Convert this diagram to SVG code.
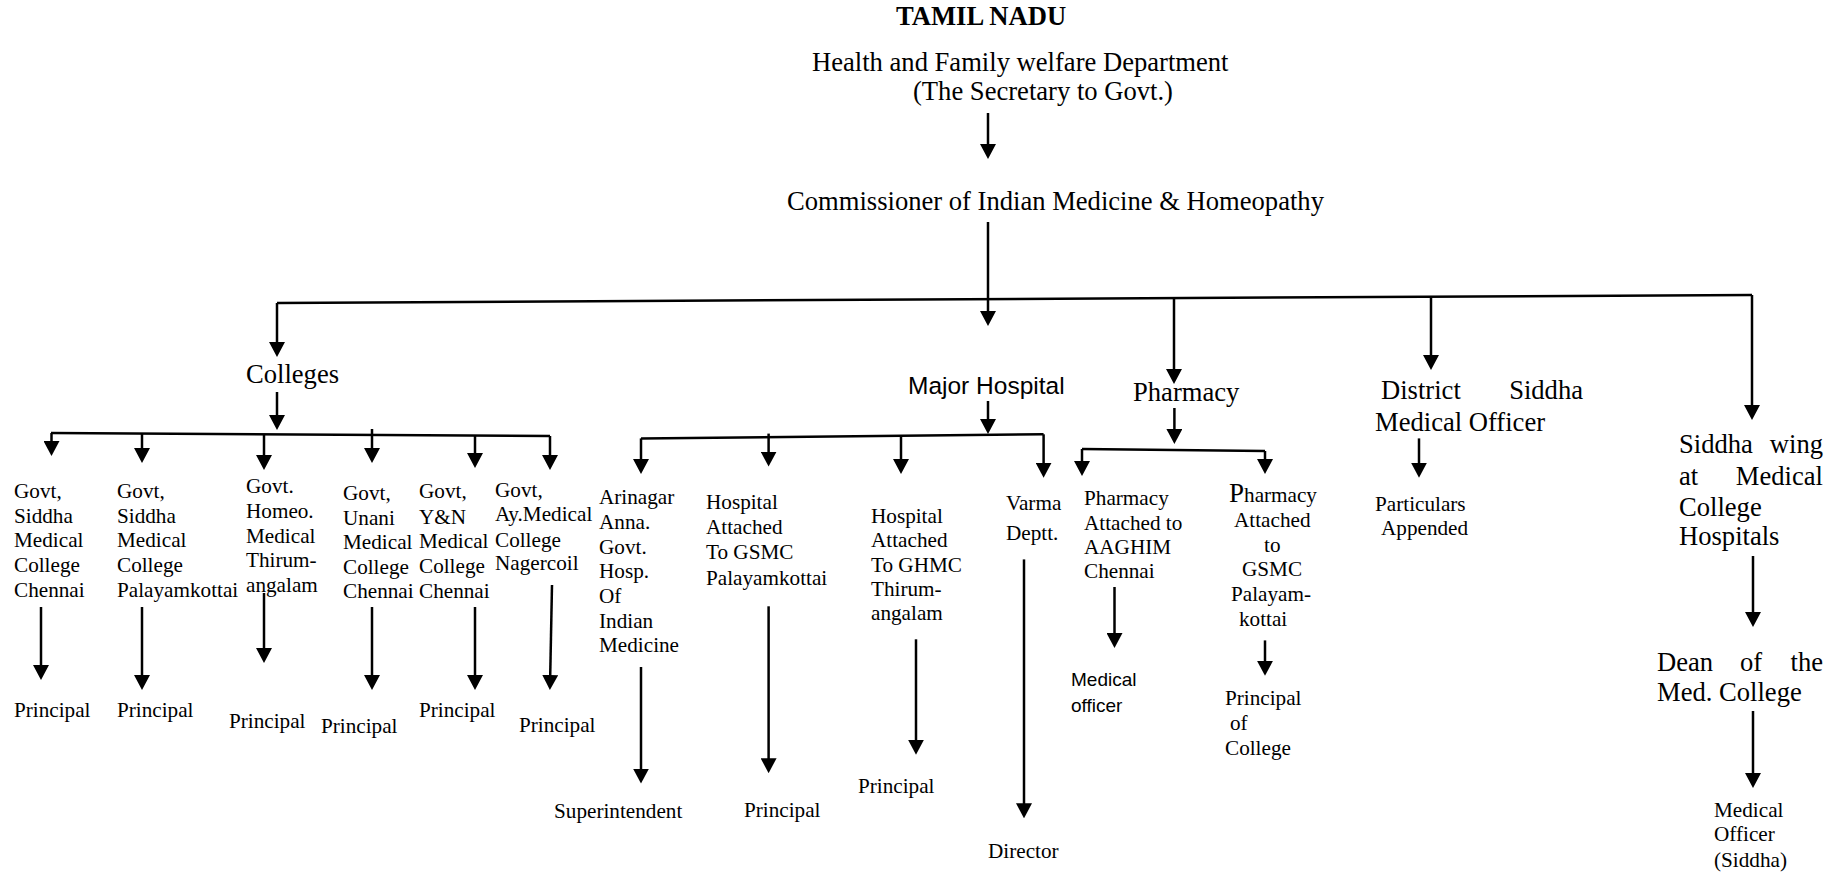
<svg xmlns="http://www.w3.org/2000/svg" width="1840" height="875" viewBox="0 0 1840 875">
<defs>
<style>
.t{font-family:"Liberation Serif","Times New Roman",serif;fill:#000}
.big{font-size:26.6px}
.sm{font-size:21.2px}
.b{font-weight:bold}
.sans{font-family:"Liberation Sans",Arial,sans-serif;fill:#000}
.c line{stroke:#000;stroke-width:2.5;fill:none}
.a{marker-end:url(#ah)}
</style>
<marker id="ah" viewBox="0 0 15 16" refX="11" refY="8" markerWidth="15" markerHeight="16" orient="auto" markerUnits="userSpaceOnUse"><path d="M0,0 L15,8 L0,16 z" fill="#000"/></marker>
</defs>
<rect width="1840" height="875" fill="#fff"/>

<g id="connectors" class="c">
<line class="a" x1="988" y1="113" x2="988" y2="155"/>
<line class="a" x1="988" y1="222" x2="988" y2="322"/>
<line x1="277" y1="303" x2="1752" y2="295"/>
<line class="a" x1="277" y1="303" x2="277" y2="353"/>
<line class="a" x1="1174" y1="298" x2="1174" y2="380"/>
<line class="a" x1="1431" y1="296.6" x2="1431" y2="366"/>
<line class="a" x1="1752" y1="295" x2="1752" y2="416"/>
<line class="a" x1="277" y1="392" x2="277" y2="426"/>
<line x1="51" y1="433" x2="550" y2="436"/>
<line class="a" x1="51.5" y1="433" x2="51.5" y2="452"/>
<line class="a" x1="142" y1="433.5" x2="142" y2="459"/>
<line class="a" x1="264" y1="434.3" x2="264" y2="466"/>
<line class="a" x1="372" y1="429" x2="372" y2="459"/>
<line class="a" x1="475" y1="435.5" x2="475" y2="464"/>
<line class="a" x1="550" y1="436" x2="550" y2="466"/>
<line class="a" x1="41" y1="607" x2="41" y2="676"/>
<line class="a" x1="142" y1="607" x2="142" y2="686"/>
<line class="a" x1="264" y1="593" x2="264" y2="659"/>
<line class="a" x1="372" y1="607" x2="372" y2="686"/>
<line class="a" x1="475" y1="607" x2="475" y2="686"/>
<line class="a" x1="552" y1="585" x2="550" y2="686"/>
<line class="a" x1="988" y1="401" x2="988" y2="430"/>
<line x1="641" y1="438.4" x2="1043.6" y2="434.3"/>
<line class="a" x1="641" y1="438.4" x2="641" y2="470"/>
<line class="a" x1="768.6" y1="433.6" x2="768.6" y2="462.6"/>
<line class="a" x1="901" y1="436" x2="901" y2="470"/>
<line class="a" x1="1043.6" y1="434.3" x2="1043.6" y2="473.7"/>
<line class="a" x1="641" y1="667" x2="641" y2="779.6"/>
<line class="a" x1="768.6" y1="606.3" x2="768.6" y2="769.2"/>
<line class="a" x1="916" y1="639.3" x2="916" y2="750.7"/>
<line class="a" x1="1024" y1="559.4" x2="1024" y2="814.3"/>
<line class="a" x1="1174.4" y1="408" x2="1174.4" y2="440"/>
<line x1="1082" y1="449" x2="1265" y2="451"/>
<line class="a" x1="1082" y1="449" x2="1082" y2="472"/>
<line class="a" x1="1265" y1="451" x2="1265" y2="470"/>
<line class="a" x1="1114.5" y1="587" x2="1114.5" y2="644"/>
<line class="a" x1="1265" y1="640.4" x2="1265" y2="671.8"/>
<line class="a" x1="1419" y1="438.4" x2="1419" y2="473.7"/>
<line class="a" x1="1753" y1="556" x2="1753" y2="623"/>
<line class="a" x1="1753" y1="711" x2="1753" y2="784"/>
</g>

<g id="title"><text class="t big b" x="896" y="25">TAMIL NADU</text></g>
<g id="health">
<text class="t big" x="812" y="71">Health and Family welfare Department</text>
<text class="t big" x="913" y="100">(The Secretary to Govt.)</text>
</g>
<g id="commissioner"><text class="t big" x="787" y="210">Commissioner of Indian Medicine &amp; Homeopathy</text></g>

<g id="colleges"><text class="t big" x="246" y="383">Colleges</text></g>
<g id="college1"><text class="t sm"><tspan x="14" y="498">Govt,</tspan><tspan x="14" y="523">Siddha</tspan><tspan x="14" y="547">Medical</tspan><tspan x="14" y="572">College</tspan><tspan x="14" y="597">Chennai</tspan></text></g>
<g id="principal1"><text class="t sm" x="14" y="717">Principal</text></g>
<g id="college2"><text class="t sm"><tspan x="117" y="498">Govt,</tspan><tspan x="117" y="523">Siddha</tspan><tspan x="117" y="547">Medical</tspan><tspan x="117" y="572">College</tspan><tspan x="117" y="597">Palayamkottai</tspan></text></g>
<g id="principal2"><text class="t sm" x="117" y="717">Principal</text></g>
<g id="college3"><text class="t sm"><tspan x="246" y="493">Govt.</tspan><tspan x="246" y="518">Homeo.</tspan><tspan x="246" y="543">Medical</tspan><tspan x="246" y="567">Thirum-</tspan><tspan x="246" y="592">angalam</tspan></text></g>
<g id="principal3"><text class="t sm" x="229" y="728">Principal</text></g>
<g id="college4"><text class="t sm"><tspan x="343" y="500">Govt,</tspan><tspan x="343" y="525">Unani</tspan><tspan x="343" y="549">Medical</tspan><tspan x="343" y="574">College</tspan><tspan x="343" y="598">Chennai</tspan></text></g>
<g id="principal4"><text class="t sm" x="321" y="733">Principal</text></g>
<g id="college5"><text class="t sm"><tspan x="419" y="498">Govt,</tspan><tspan x="419" y="524">Y&amp;N</tspan><tspan x="419" y="548">Medical</tspan><tspan x="419" y="573">College</tspan><tspan x="419" y="598">Chennai</tspan></text></g>
<g id="principal5"><text class="t sm" x="419" y="717">Principal</text></g>
<g id="college6"><text class="t sm"><tspan x="495" y="497">Govt,</tspan><tspan x="495" y="521">Ay.Medical</tspan><tspan x="495" y="547">College</tspan><tspan x="495" y="570">Nagercoil</tspan></text></g>
<g id="principal6"><text class="t sm" x="519" y="732">Principal</text></g>

<g id="major-hospital"><text class="sans" font-size="24.5" x="908" y="394">Major Hospital</text></g>
<g id="arinagar"><text class="t sm"><tspan x="599" y="504">Arinagar</tspan><tspan x="599" y="529">Anna.</tspan><tspan x="599" y="554">Govt.</tspan><tspan x="599" y="578">Hosp.</tspan><tspan x="599" y="603">Of</tspan><tspan x="599" y="628">Indian</tspan><tspan x="599" y="652">Medicine</tspan></text></g>
<g id="superintendent"><text class="t sm" x="554" y="818">Superintendent</text></g>
<g id="hosp-gsmc"><text class="t sm"><tspan x="706" y="509">Hospital</tspan><tspan x="706" y="534">Attached</tspan><tspan x="706" y="559">To GSMC</tspan><tspan x="706" y="585">Palayamkottai</tspan></text></g>
<g id="principal-gsmc"><text class="t sm" x="744" y="817">Principal</text></g>
<g id="hosp-ghmc"><text class="t sm"><tspan x="871" y="523">Hospital</tspan><tspan x="871" y="547">Attached</tspan><tspan x="871" y="572">To GHMC</tspan><tspan x="871" y="596">Thirum-</tspan><tspan x="871" y="620">angalam</tspan></text></g>
<g id="principal-ghmc"><text class="t sm" x="858" y="793">Principal</text></g>
<g id="varma"><text class="t sm"><tspan x="1006" y="510">Varma</tspan><tspan x="1006" y="540">Deptt.</tspan></text></g>
<g id="director"><text class="t sm" x="988" y="858">Director</text></g>

<g id="pharmacy"><text class="t big" x="1133" y="401">Pharmacy</text></g>
<g id="pharm-aaghim"><text class="t sm"><tspan x="1084" y="505">Pharmacy</tspan><tspan x="1084" y="530">Attached to</tspan><tspan x="1084" y="554">AAGHIM</tspan><tspan x="1084" y="578">Chennai</tspan></text></g>
<g id="medical-officer"><text class="sans" font-size="19"><tspan x="1071" y="686">Medical</tspan><tspan x="1071" y="712">officer</tspan></text></g>
<g id="pharm-gsmc"><text class="t sm"><tspan x="1229" y="502"><tspan font-size="27">P</tspan>harmacy</tspan><tspan x="1234" y="527">Attached</tspan><tspan x="1264" y="552">to</tspan><tspan x="1242" y="576">GSMC</tspan><tspan x="1231" y="601">Palayam-</tspan><tspan x="1239" y="626">kottai</tspan></text></g>
<g id="principal-college"><text class="t sm"><tspan x="1225" y="705">Principal</tspan><tspan x="1230" y="730">of</tspan><tspan x="1225" y="755">College</tspan></text></g>

<g id="district"><text class="t big"><tspan x="1381" y="399">District</tspan><tspan x="1583" y="399" text-anchor="end">Siddha</tspan><tspan x="1375" y="431">Medical Officer</tspan></text></g>
<g id="particulars"><text class="t sm"><tspan x="1375" y="511">Particulars</tspan><tspan x="1381" y="535">Appended</tspan></text></g>

<g id="siddha-wing"><text class="t big"><tspan x="1679" y="453">Siddha</tspan><tspan x="1823" y="453" text-anchor="end">wing</tspan><tspan x="1679" y="485">at</tspan><tspan x="1823" y="485" text-anchor="end">Medical</tspan><tspan x="1679" y="516">College</tspan><tspan x="1679" y="545">Hospitals</tspan></text></g>
<g id="dean"><text class="t big"><tspan x="1657" y="671">Dean</tspan><tspan x="1740" y="671">of</tspan><tspan x="1823" y="671" text-anchor="end">the</tspan><tspan x="1657" y="701">Med. College</tspan></text></g>
<g id="medical-officer-siddha"><text class="t sm"><tspan x="1714" y="817">Medical</tspan><tspan x="1714" y="841">Officer</tspan><tspan x="1714" y="867">(Siddha)</tspan></text></g>
</svg>
